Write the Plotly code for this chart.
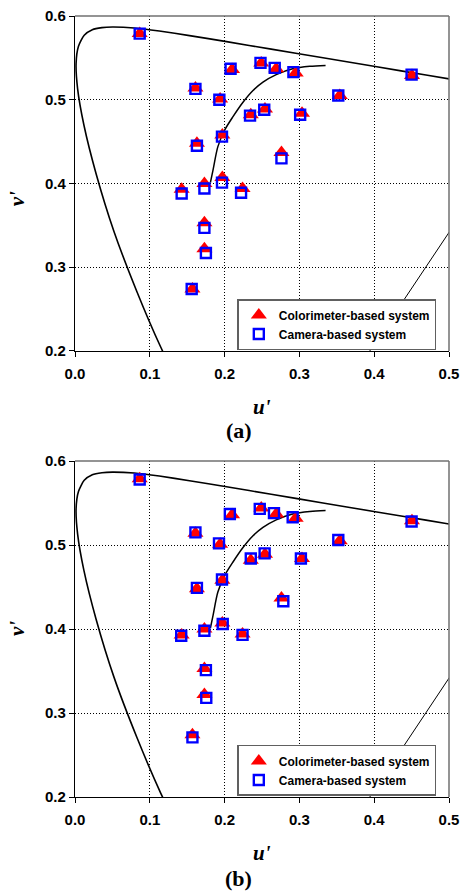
import plotly.graph_objects as go

# ---------------- data ----------------
# Colorimeter-based measurements (same in both panels)
u_col = [0.0865, 0.161, 0.194, 0.210, 0.249, 0.269, 0.295, 0.354, 0.4505, 0.235, 0.254,
         0.3035, 0.197, 0.163, 0.276, 0.1426, 0.173, 0.197, 0.224, 0.173, 0.173, 0.157]
v_col = [0.579, 0.514, 0.501, 0.536, 0.544, 0.537, 0.532, 0.505, 0.529, 0.482, 0.489,
         0.484, 0.458, 0.448, 0.437, 0.393, 0.400, 0.407, 0.394, 0.353, 0.322, 0.274]

# Camera-based measurements, panel (a)
u_cam_a = [0.0865, 0.161, 0.193, 0.208, 0.248, 0.267, 0.292, 0.352, 0.450, 0.234, 0.253,
           0.301, 0.1965, 0.163, 0.276, 0.1426, 0.173, 0.1965, 0.222, 0.173, 0.175, 0.156]
v_cam_a = [0.579, 0.513, 0.500, 0.537, 0.544, 0.538, 0.533, 0.505, 0.530, 0.481, 0.488,
           0.482, 0.456, 0.445, 0.430, 0.388, 0.394, 0.401, 0.389, 0.347, 0.317, 0.274]

# Camera-based measurements, panel (b)
u_cam_b = [0.0865, 0.161, 0.1925, 0.207, 0.247, 0.266, 0.291, 0.352, 0.450, 0.235, 0.2535,
           0.302, 0.1965, 0.163, 0.2785, 0.142, 0.173, 0.1975, 0.224, 0.175, 0.1755, 0.157]
v_cam_b = [0.578, 0.515, 0.502, 0.537, 0.543, 0.538, 0.533, 0.506, 0.528, 0.484, 0.490,
           0.484, 0.459, 0.449, 0.433, 0.392, 0.398, 0.406, 0.393, 0.351, 0.318, 0.271]

# Spectrum locus (u', v')
locus_u = [0.1441, 0.1147, 0.0828, 0.0521, 0.0282, 0.0119, 0.0035, 0.00144, 0.00464, 0.0123,
           0.0231, 0.036, 0.0501, 0.0792, 0.1127, 0.1531, 0.2026, 0.2623, 0.3315, 0.4035,
           0.4692, 0.5203]
locus_v = [0.151, 0.2044, 0.2708, 0.3427, 0.4117, 0.4698, 0.513, 0.5431, 0.5638, 0.577,
           0.5837, 0.5861, 0.5868, 0.5857, 0.5821, 0.5766, 0.5694, 0.5604, 0.5501, 0.5393,
           0.5296, 0.5219]

# Planckian locus
planck_u = [0.181, 0.1845, 0.191, 0.200, 0.211, 0.2246, 0.238, 0.2513, 0.269, 0.291, 0.314, 0.335]
planck_v = [0.401, 0.416, 0.444, 0.4636, 0.4795, 0.497, 0.511, 0.521, 0.530, 0.537, 0.540, 0.541]

# Purple line
purple_u = [0.2568, 0.6234]
purple_v = [0.0165, 0.5065]

x_ticks = [0.0, 0.1, 0.2, 0.3, 0.4, 0.5]
x_ticklabels = ["0.0", "0.1", "0.2", "0.3", "0.4", "0.5"]
y_ticks = [0.2, 0.3, 0.4, 0.5, 0.6]
y_ticklabels = ["0.2", "0.3", "0.4", "0.5", "0.6"]
panel_labels = ["(a)", "(b)"]
name_col = "Colorimeter-based system"
name_cam = "Camera-based system"

# ---------------- figure ----------------
fig = go.Figure()

panels = [("x", "y", "legend", u_cam_a, v_cam_a), ("x2", "y2", "legend2", u_cam_b, v_cam_b)]
for xa, ya, lg, uc, vc in panels:
    fig.add_trace(go.Scatter(x=locus_u, y=locus_v, mode="lines", xaxis=xa, yaxis=ya,
                             line=dict(color="black", width=1.6, shape="spline", smoothing=0.6),
                             showlegend=False, hoverinfo="skip"))
    fig.add_trace(go.Scatter(x=planck_u, y=planck_v, mode="lines", xaxis=xa, yaxis=ya,
                             line=dict(color="black", width=1.5, shape="spline", smoothing=0.8),
                             showlegend=False, hoverinfo="skip"))
    fig.add_trace(go.Scatter(x=purple_u, y=purple_v, mode="lines", xaxis=xa, yaxis=ya,
                             line=dict(color="black", width=1),
                             showlegend=False, hoverinfo="skip"))
    fig.add_trace(go.Scatter(x=u_col, y=v_col, mode="markers", name="<b>" + name_col + "</b>",
                             xaxis=xa, yaxis=ya, legend=lg,
                             marker=dict(symbol="triangle-up", size=14, color="#ff0000",
                                         line=dict(width=0))))
    fig.add_trace(go.Scatter(x=uc, y=vc, mode="markers", name="<b>" + name_cam + "</b>",
                             xaxis=xa, yaxis=ya, legend=lg,
                             marker=dict(symbol="square-open", size=10, color="#0000ff",
                                         line=dict(width=2.4, color="#0000ff"))))

tickfont = dict(family="Liberation Sans, Arial", size=15, color="black")

def xaxis_cfg(anchor):
    return dict(range=[0, 0.5], tickvals=x_ticks,
                ticktext=["<b>" + t + "</b>" for t in x_ticklabels], anchor=anchor,
                showline=True, linecolor="black", linewidth=1.2,
                ticks="outside", ticklen=5, tickcolor="black", tickwidth=1,
                ticklabelstandoff=4,
                showgrid=True, gridcolor="black", griddash="1px,2px", gridwidth=1,
                zeroline=False, tickfont=tickfont, fixedrange=True, automargin=False)

def yaxis_cfg(anchor, domain):
    return dict(range=[0.2, 0.6], tickvals=y_ticks,
                ticktext=["<b>" + t + "</b>" for t in y_ticklabels], anchor=anchor,
                domain=domain,
                showline=True, linecolor="black", linewidth=1.2,
                ticks="outside", ticklen=5, tickcolor="black", tickwidth=1,
                showgrid=True, gridcolor="black", griddash="1px,2px", gridwidth=1,
                zeroline=False, tickfont=tickfont, fixedrange=True, automargin=False)

legend_cfg = dict(bgcolor="white", bordercolor="#606060", borderwidth=1.5,
                  font=dict(family="Liberation Sans, Arial", size=12, color="black"),
                  xanchor="left", yanchor="top", tracegroupgap=0, itemsizing="trace")

# top/right grey borders
shapes = []
for xr, yr in [("x domain", "y domain"), ("x2 domain", "y2 domain")]:
    shapes.append(dict(type="line", xref=xr, yref=yr, x0=0, x1=1, y0=1, y1=1,
                       line=dict(color="#707070", width=1.5), layer="above"))
    shapes.append(dict(type="line", xref=xr, yref=yr, x0=1, x1=1, y0=0, y1=1,
                       line=dict(color="#707070", width=1.5), layer="above"))

title_font = dict(family="Liberation Serif, Times New Roman", size=21, color="black")
label_font = dict(family="Liberation Serif, Times New Roman", size=22, color="black")

annotations = []
for yc_u, yc_lab, yc_v, lab in [(0.4994, 0.469, 0.7653, panel_labels[0]),
                                (-0.0717, -0.1040, 0.2151, panel_labels[1])]:
    annotations.append(dict(text="<b><i>u'</i></b>", xref="paper", yref="paper",
                            x=0.5, y=yc_u, xanchor="center", yanchor="middle",
                            showarrow=False, font=title_font))
    annotations.append(dict(text="<b>" + lab + "</b>", xref="paper", yref="paper",
                            x=0.4385, y=yc_lab, xanchor="center", yanchor="middle",
                            showarrow=False, font=label_font))
    annotations.append(dict(text="<b><i>v'</i></b>", xref="paper", yref="paper",
                            x=-0.155, y=yc_v, xanchor="center", yanchor="middle",
                            textangle=-90, showarrow=False, font=title_font))

fig.update_layout(
    width=462, height=896,
    margin=dict(l=75, r=13, t=16, b=99),
    paper_bgcolor="white", plot_bgcolor="white",
    xaxis=xaxis_cfg("y"),
    yaxis=yaxis_cfg("x", [0.5711, 1.0]),
    xaxis2=xaxis_cfg("y2"),
    yaxis2=yaxis_cfg("x2", [0.0, 0.4302]),
    legend=dict(x=0.434, y=0.6376, **legend_cfg),
    legend2=dict(x=0.434, y=0.0666, **legend_cfg),
    shapes=shapes,
    annotations=annotations,
)

fig.write_html("out.html", config={"displayModeBar": False},
               post_script="document.body.style.margin='0px';document.body.style.padding='0px';")
